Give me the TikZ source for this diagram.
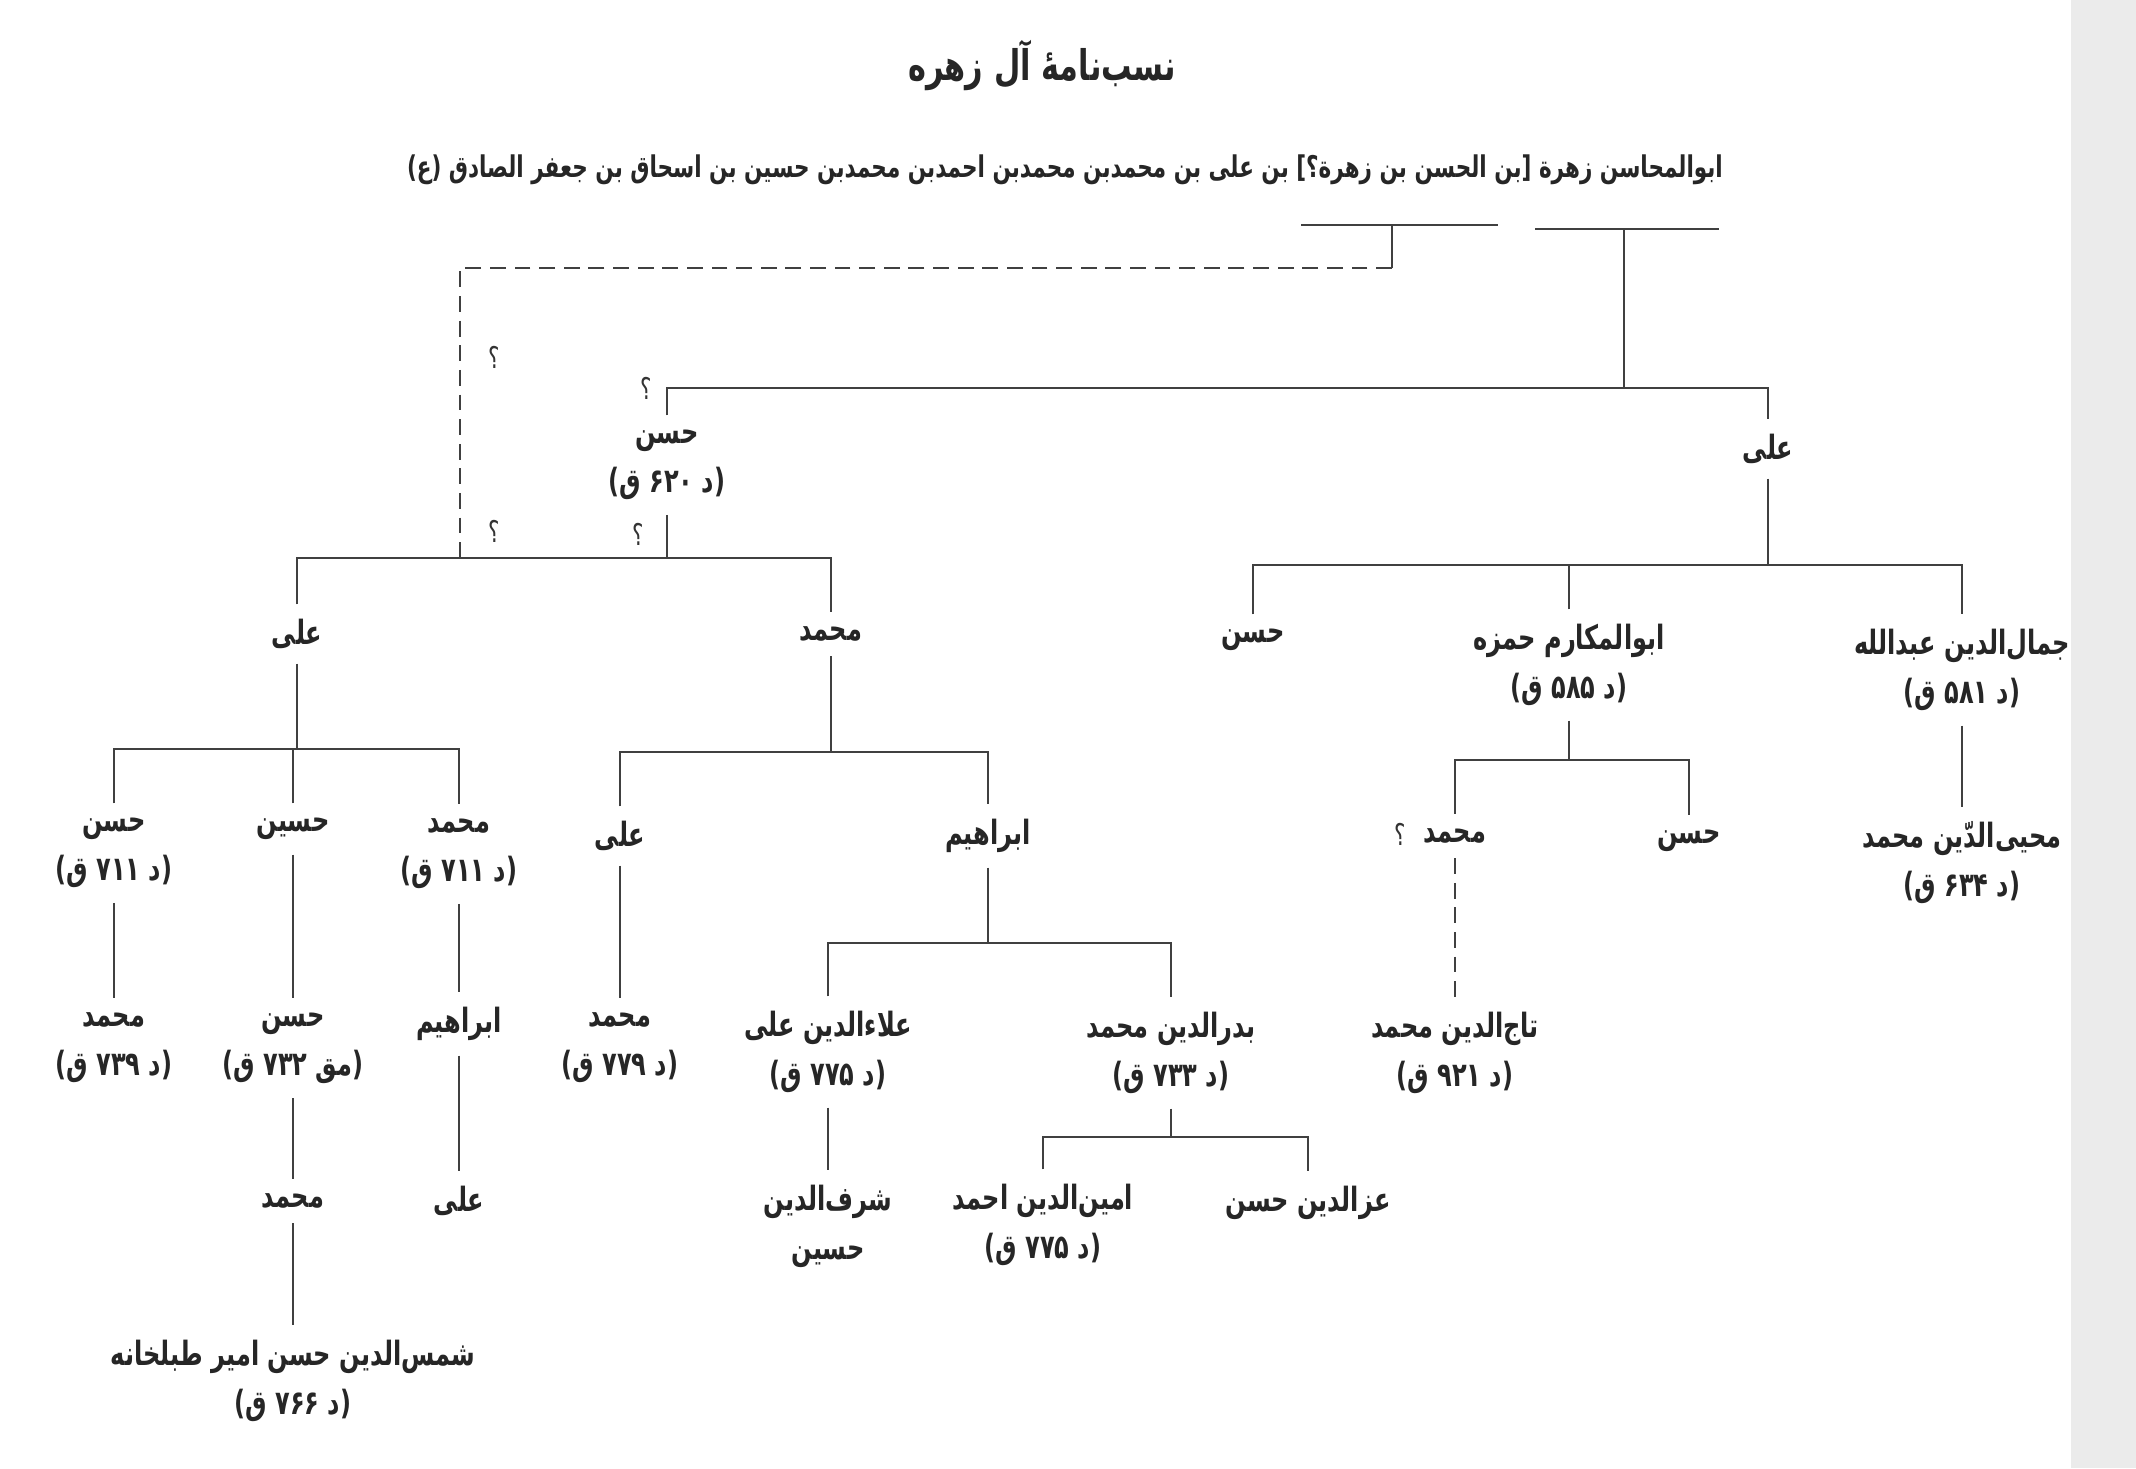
\documentclass[tikz,border=0pt]{standalone}
\usepackage{fontspec}
\usepackage{tikz}
\TeXXeTstate=1
\newfontfamily\arabicfont[Script=Arabic, FakeStretch=0.72]{DejaVu Sans}
\newcommand{\fatext}[1]{\beginR #1\endR}
\tikzset{pers/.style={font=\arabicfont\bfseries\fontsize{9.5}{14}\selectfont, align=center, inner xsep=2pt, inner ysep=4pt, text=black!85},
  link/.style={draw=black!75, line width=0.6pt},
  quest/.style={font=\arabicfont\fontsize{8.5}{9}\selectfont, inner sep=1pt, text=black!80}}

\begin{document}
\begin{tikzpicture}[x=0.01cm, y=-0.01cm]
\useasboundingbox (0,0) rectangle (2136,1468);
\fill[gray!16] (2071,0) rectangle (2136,1468);
\node[pers, font=\arabicfont\bfseries\fontsize{12}{15}\selectfont] (title) at (1042,65) {\fatext{نسب‌نامهٔ آل زهره}};
\node[pers, font=\arabicfont\bfseries\fontsize{8.5}{12}\selectfont] (root) at (1065,170) {\fatext{ابوالمحاسن زهرة [بن الحسن بن زهرة؟] بن علی بن محمدبن محمدبن احمدبن محمدبن حسین بن اسحاق بن جعفر الصادق (ع)}};
\node[pers] (hasanA) at (667,465) {\fatext{حسن}\\\fatext{(د ۶۲۰ ق)}};
\node[pers] (aliA) at (1768,449) {\fatext{علی}};
\node[pers] (aliB) at (297,634) {\fatext{علی}};
\node[pers] (mohB) at (831,634) {\fatext{محمد}};
\node[pers] (hasanB) at (1253,640) {\fatext{حسن}};
\node[pers] (hamza) at (1569,665) {\fatext{ابوالمکارم حمزه}\\\fatext{(د ۵۸۵ ق)}};
\node[pers] (abdallah) at (1962,670) {\fatext{جمال‌الدین عبدالله}\\\fatext{(د ۵۸۱ ق)}};
\node[pers] (mohD) at (1455,836) {\fatext{محمد}};
\node[pers] (hasanC) at (1689,841) {\fatext{حسن}};
\node[pers] (mohyi) at (1962,863) {\fatext{محیی‌الدّین محمد}\\\fatext{(د ۶۳۴ ق)}};
\node[pers] (taj) at (1455,1053) {\fatext{تاج‌الدین محمد}\\\fatext{(د ۹۲۱ ق)}};
\node[pers] (hasanD) at (114,853) {\fatext{حسن}\\\fatext{(د ۷۱۱ ق)}};
\node[pers] (hoseinA) at (293,829) {\fatext{حسین}};
\node[pers] (mohC) at (459,854) {\fatext{محمد}\\\fatext{(د ۷۱۱ ق)}};
\node[pers] (mohE) at (114,1048) {\fatext{محمد}\\\fatext{(د ۷۳۹ ق)}};
\node[pers] (hasanE) at (293,1048) {\fatext{حسن}\\\fatext{(مق ۷۳۲ ق)}};
\node[pers] (mohF) at (293,1201) {\fatext{محمد}};
\node[pers] (shams) at (293,1381) {\fatext{شمس‌الدین حسن امیر طبلخانه}\\\fatext{(د ۷۶۶ ق)}};
\node[pers] (ebrahimB) at (459,1024) {\fatext{ابراهیم}};
\node[pers] (aliD) at (459,1201) {\fatext{علی}};
\node[pers] (aliC) at (620,836) {\fatext{علی}};
\node[pers] (ebrahimA) at (988,836) {\fatext{ابراهیم}};
\node[pers] (mohG) at (620,1048) {\fatext{محمد}\\\fatext{(د ۷۷۹ ق)}};
\node[pers] (alaa) at (828,1052) {\fatext{علاءالدین علی}\\\fatext{(د ۷۷۵ ق)}};
\node[pers] (badr) at (1171,1053) {\fatext{بدرالدین محمد}\\\fatext{(د ۷۳۳ ق)}};
\node[pers] (sharaf) at (828,1226) {\fatext{شرف‌الدین}\\\fatext{حسین}};
\node[pers] (amin) at (1043,1225) {\fatext{امین‌الدین احمد}\\\fatext{(د ۷۷۵ ق)}};
\node[pers] (ezz) at (1308,1203) {\fatext{عزالدین حسن}};
\node[quest] (qA) at (646,388) {\fatext{؟}};
\node[quest] (qB) at (494,357) {\fatext{؟}};
\node[quest] (qC) at (494,531) {\fatext{؟}};
\node[quest] (qD) at (638,534) {\fatext{؟}};
\node[quest] (qE) at (1400,834) {\fatext{؟}};
\coordinate (segLa) at (1301,225);
\coordinate (segLb) at (1498,225);
\coordinate (segRa) at (1535,229);
\coordinate (segRb) at (1719,229);
\coordinate (forkL) at (1392,225);
\coordinate (forkR) at (1624,229);
\coordinate (bendL) at (460,268);
\coordinate (yA) at (0,388);
\coordinate (yB) at (0,558);
\coordinate (yC) at (0,565);
\coordinate (yD) at (0,749);
\coordinate (yE) at (0,752);
\coordinate (yF) at (0,760);
\coordinate (yG) at (0,943);
\coordinate (yH) at (0,1137);
\draw[link] (segLa) -- (segLb);
\draw[link] (segRa) -- (segRb);
\draw[link] (forkL) -- (forkL |- bendL);
\draw[link, dash pattern=on 4.5pt off 2.5pt] (forkL |- bendL) -- (bendL) -- (bendL |- yB);
\draw[link] (forkR) -- (forkR |- yA);
\foreach \a/\b/\y in {hasanA/aliA/yA, aliB/mohB/yB, hasanB/abdallah/yC, hasanD/mohC/yD, aliC/ebrahimA/yE, mohD/hasanC/yF, alaa/badr/yG, amin/ezz/yH}
{
  \draw[link] (\a.north) |- (\b.north |- \y) -- (\b.north);
}
\foreach \p/\y in {hasanA/yB, aliA/yC, aliB/yD, mohB/yE, hamza/yF, ebrahimA/yG, badr/yH}
{
  \draw[link] (\p.south) -- (\p.south |- \y);
}
\foreach \c/\y in {hamza/yC, hoseinA/yD}
{
  \draw[link] (\c.north) -- (\c.north |- \y);
}
\foreach \i/\j in {abdallah/mohyi, hasanD/mohE, hoseinA/hasanE, hasanE/mohF, mohF/shams, mohC/ebrahimB, ebrahimB/aliD, aliC/mohG, alaa/sharaf}
{
  \draw[link] (\i.south) -- (\i.south |- \j.north);
}
\draw[link, dash pattern=on 4.5pt off 2.5pt] (mohD.south) -- (mohD.south |- taj.north);
\end{tikzpicture}
\end{document}
